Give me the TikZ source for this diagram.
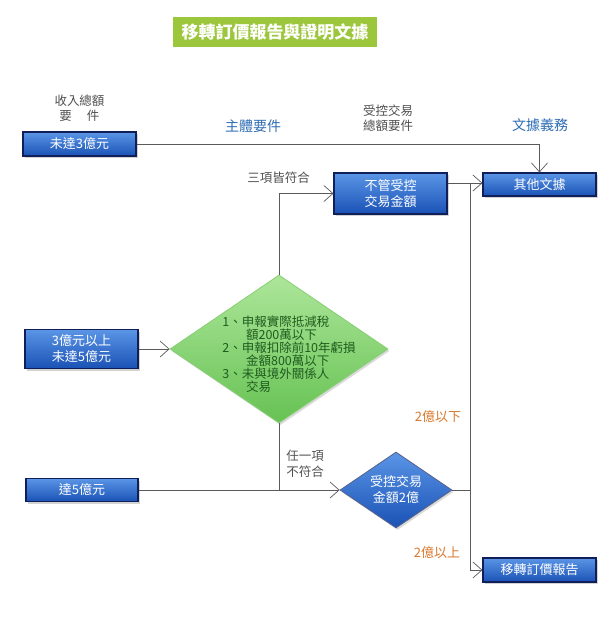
\documentclass[tikz,border=0pt]{standalone}
\usepackage{fontspec}
\setmainfont{Noto Sans CJK TC}
\usetikzlibrary{arrows.meta,shapes.geometric,shadows}
\definecolor{linegray}{HTML}{5A5A5A}
\definecolor{txtgray}{HTML}{505050}
\definecolor{hdrblue}{HTML}{2E6DB4}
\definecolor{orangelbl}{HTML}{D9782D}
\definecolor{titlegreen}{HTML}{9CC63B}
\definecolor{boxtop}{HTML}{5A95E6}
\definecolor{boxbot}{HTML}{1A52B5}
\definecolor{boxedge}{HTML}{101E5A}
\definecolor{gdtop}{HTML}{ADE69A}
\definecolor{gdbot}{HTML}{66C253}
\definecolor{gdedge}{HTML}{86CF73}
\definecolor{gdtext}{HTML}{1F5C1F}
\tikzset{
  bluebox/.style={rectangle, draw=boxedge, line width=1.1pt, top color=boxtop, bottom color=boxbot,
    text=white, font=\fontsize{13}{16}\selectfont, align=center, inner sep=0pt,
    drop shadow={shadow xshift=1.5pt, shadow yshift=-2pt, opacity=0.35}},
  conn/.style={draw=linegray, line width=0.8pt},
  arr/.style={conn, -{Straight Barb[length=9pt, width=16pt, line width=0.7pt]}},
  graylbl/.style={text=txtgray, font=\fontsize{12.5}{15.5}\selectfont, align=center, inner sep=0pt},
  hdr/.style={text=hdrblue, font=\fontsize{14}{17}\selectfont, inner sep=0pt},
  orlbl/.style={text=orangelbl, font=\fontsize{13}{16}\selectfont, inner sep=0pt}
}
\begin{document}
\begin{tikzpicture}[x=1pt, y=-1pt]
\useasboundingbox (0,0) rectangle (611,625);
% title
\node[fill=titlegreen, minimum width=204pt, minimum height=30pt, inner sep=0pt,
  text=white, font=\fontsize{17}{20}\selectfont\bfseries] (title) at (275,32) {移轉訂價報告與證明文據};
% headers
\node[graylbl] (h1) at (79.5,108) {收入總額\\要\hspace{1.2em}件};
\node[hdr] (h2) at (253,126) {主體要件};
\node[graylbl] (h3) at (388,118) {受控交易\\總額要件};
\node[hdr] (h4) at (540,125) {文據義務};
% boxes
\node[bluebox, minimum width=113pt, minimum height=24pt] (lt3) at (79.5,144) {未達3億元};
\node[bluebox, minimum width=113pt, minimum height=39pt] (mid) at (81.5,349) {3億元以上\\未達5億元};
\node[bluebox, minimum width=112pt, minimum height=23pt] (ge5) at (82,490) {達5億元};
\node[bluebox, minimum width=113pt, minimum height=41pt] (nomat) at (390.5,193.5) {不管受控\\交易金額};
\node[bluebox, minimum width=113pt, minimum height=23pt] (other) at (539.5,184.5) {其他文據};
\node[bluebox, minimum width=113pt, minimum height=24pt] (report) at (539.5,570) {移轉訂價報告};
% green diamond
\node[diamond, draw=gdedge, line width=0.8pt, top color=gdtop, bottom color=gdbot,
  minimum width=218pt, minimum height=148pt, inner sep=0pt,
  drop shadow={shadow xshift=1.5pt, shadow yshift=-2pt, opacity=0.3}] (gd) at (279,349) {};
\node[text=gdtext, font=\fontsize{12.5}{13}\selectfont, align=left, inner sep=0pt] (gdtxt) at (289,354)
  {1、申報實際抵減稅\\\hspace{1.9em}額200萬以下\\2、申報扣除前10年虧損\\\hspace{1.9em}金額800萬以下\\3、未與境外關係人\\\hspace{1.9em}交易};
% blue diamond
\node[diamond, draw=boxedge!70, line width=0.8pt, top color=boxtop, bottom color=boxbot,
  minimum width=112pt, minimum height=76pt, inner sep=0pt,
  drop shadow={shadow xshift=1.5pt, shadow yshift=-2pt, opacity=0.3}] (bd) at (396,490) {};
\node[text=white, font=\fontsize{13}{16}\selectfont, align=center, inner sep=0pt] (bdtxt) at (396,490) {受控交易\\金額2億};
% labels
\node[graylbl] (l1) at (278.5,178) {三項皆符合};
\node[graylbl, align=left] (l2) at (305,464) {任一項\\不符合};
\node[orlbl] (l3) at (438,417) {2億以下};
\node[orlbl] (l4) at (437,553) {2億以上};
% junction
\coordinate (j) at (470,183);
% connectors
\draw[arr] (lt3.east) -| (other.north);
\draw[arr] (nomat.east |- j) -- (other.west |- j);
\draw[conn] (j) -- (j |- report.west);
\draw[arr] (j |- report.west) -- (report.west);
\draw[conn] (bd.east) -- (bd.east -| j);
\draw[arr] (gd.north) |- (nomat.west);
\draw[arr] (mid.east) -- (gd.west);
\draw[conn] (gd.south) -- (gd.south |- bd.west);
\draw[arr] (ge5.east) -- (bd.west);
\end{tikzpicture}
\end{document}
